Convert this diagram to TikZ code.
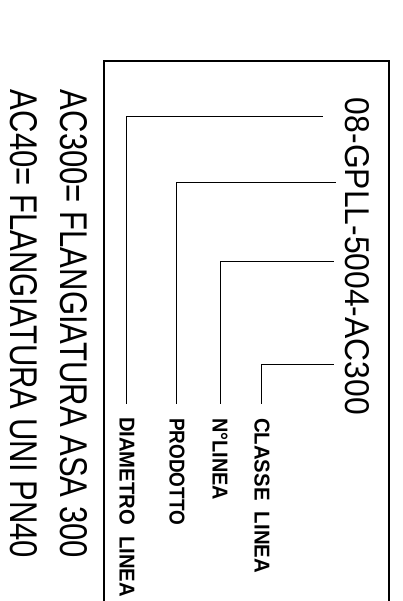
\documentclass[tikz,border=0pt]{standalone}
\usepackage{fontspec}
\setmainfont{Liberation Sans}
\usepackage{graphicx}
\newcommand{\fitbox}[3]{\resizebox{#1pt}{#2pt}{#3}}
\tikzset{
  txt/.style={inner sep=0pt, outer sep=0pt, rotate=-90, anchor=base west},
  lead/.style={line width=1pt, line cap=rect},
  frame/.style={line width=1.2pt}
}
\begin{document}
\begin{tikzpicture}[x=1pt, y=-1pt]
\useasboundingbox (0,0) rectangle (402,601);
% frame
\draw[frame] (104,601) |- (389,61) -- (389,601);
% main code
\node[txt] (code) at (345,98) {\fitbox{317}{24}{08-GPLL-5004-AC300}};
% legend
\node[txt] (leg1) at (60,90) {\fitbox{468}{27}{AC300= FLANGIATURA ASA 300}};
\node[txt] (leg2) at (10,90) {\fitbox{468}{27}{AC40= FLANGIATURA UNI PN40}};
% labels
\node[txt] (lab1) at (119.5,417) {\fitbox{180}{15}{\bfseries DIAMETRO\ \ LINEA}};
\node[txt] (lab2) at (169.5,418) {\fitbox{107}{15}{\bfseries PRODOTTO}};
\node[txt] (lab3) at (212.5,418) {\fitbox{82}{15}{\bfseries N°LINEA}};
\node[txt] (lab4) at (254.5,418) {\fitbox{155}{15}{\bfseries CLASSE\ \ LINEA}};
% leader start points
\coordinate (c1) at (322,117);
\coordinate (c2) at (335,183);
\coordinate (c3) at (333,261);
\coordinate (c4) at (333,364);
\draw[lead] (c1) -| ([yshift=14pt]lab1.west);
\draw[lead] (c2) -| ([yshift=15pt]lab2.west);
\draw[lead] (c3) -| ([yshift=15pt]lab3.west);
\draw[lead] (c4) -| ([yshift=15pt]lab4.west);
\end{tikzpicture}
\end{document}
